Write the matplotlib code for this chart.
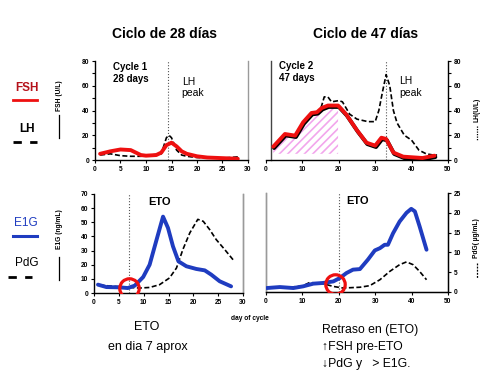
import numpy as np
import matplotlib
matplotlib.use("Agg")
import matplotlib.pyplot as plt
from matplotlib.lines import Line2D
import matplotlib.patheffects as pe

plt.rcParams['font.family'] = ['Liberation Sans', 'DejaVu Sans']
plt.rcParams['hatch.linewidth'] = 1.2

# ---- data: cycle 1 (28 days) ----
c1_fsh_day = [1, 2, 3, 5, 7, 8, 9, 10, 12, 13, 14, 15, 16, 17, 18, 20, 22, 25, 28]
c1_fsh = [5, 6, 7, 8.5, 8, 6, 4, 3.5, 4, 6, 12, 14, 11, 7, 5, 3, 2, 1.5, 1]
c1_lh_day = [1, 3, 5, 7, 9, 10, 13, 14, 14.5, 15, 16, 17, 18, 20, 25, 28]
c1_lh = [4, 5, 3.5, 3, 3, 3.5, 5, 18, 20, 18, 8, 4, 3, 2, 1.5, 2.5]

c1_e1g_day = [0.8, 2.5, 5.2, 6.8, 8.2, 9.9, 11.2, 12.6, 13.9, 14.9, 15.9, 17, 18.6,
              20.6, 22.3, 23.6, 25.3, 27.6]
c1_e1g = [5.9, 4.2, 4.0, 3.5, 5.2, 11.3, 20, 37.7, 54, 46, 33, 22.4, 18.9, 17, 16, 13, 8.3, 4.7]
c1_pdg_day = [1.1, 3.8, 7.2, 9.2, 11.2, 13.2, 15.2, 16.6, 17.9, 19.3, 20.9, 22, 23.3,
              24.6, 26.3, 28]
c1_pdg = [2.0, 1.7, 1.4, 1.25, 1.4, 2.1, 3.8, 6.3, 11, 15.2, 18.6, 18.1, 16, 13.5, 11, 8.4]

# ---- data: cycle 2 (47 days) ----
c2_fsh_day = [2, 5.2, 8, 10.2, 12.5, 14, 15.3, 17, 19.8, 22, 25, 27.6, 30, 31.7, 33,
              35, 37.7, 43, 46.3]
c2_fsh = [10.8, 21, 19.7, 30.5, 38, 38.6, 42, 44, 44, 37, 24, 14, 11.6, 18, 17, 6, 2.7, 1.6, 3.5]
c2_lh_day = [2, 5.2, 8, 10.2, 12.5, 14, 15, 15.5, 16, 17, 18, 20, 21, 23, 25, 28, 30,
             31, 32, 33, 34, 35, 36, 38, 40, 42, 44, 46, 47]
c2_lh = [10, 20, 19, 29, 37, 38, 41, 46, 51, 51, 47, 48, 47, 37, 33, 31, 31,
         40, 55, 69, 60, 40, 30, 20, 16, 8, 5, 4, 4]

c2_e1g_day = [0.2, 3.8, 7.5, 10.2, 13, 15.7, 18.5, 20.3, 22.1, 23.9, 25.8, 28, 29.9,
              31.3, 32.6, 33.5, 34.9, 36.7, 38.6, 39.9, 40.9, 42.2, 44.1]
c2_e1g = [2.8, 3.5, 2.8, 4, 5.9, 6.4, 7.5, 9.9, 13.4, 15.8, 16.2, 22.9, 29.4, 31,
          33.4, 33.4, 41.5, 49.8, 56, 58.8, 57, 46.4, 29.9]
c2_pdg_day = [0.5, 5, 10, 12, 15.7, 18.5, 21.2, 25.8, 28.5, 31.3, 34, 36.7, 38.6,
              40.4, 42.2, 44.1]
c2_pdg = [1.0, 1.1, 1.5, 2.4, 2.1, 1.4, 1.0, 1.2, 1.6, 3.1, 5.2, 6.9, 7.6, 6.9, 5.2, 3.1]

RED = '#ee1010'
BLUE = '#1f3cc0'
GREY = '#9a9a9a'


def fx(px):
    return px / 489.0


def fy(py):
    return 1 - py / 375.0


def box(x0, y0, x1, y1):
    return [fx(x0), fy(y1), fx(x1) - fx(x0), fy(y0) - fy(y1)]


def style_ticks(ax):
    ax.tick_params(axis='both', which='both', direction='out', length=2.5, width=0.8,
                   pad=1.5, labelsize=4.8, colors='black')
    for lab in ax.get_xticklabels() + ax.get_yticklabels():
        lab.set_fontweight('bold')


fig = plt.figure(figsize=(4.89, 3.75), dpi=100)
fig.patch.set_facecolor('white')

# ---------------- top-left: cycle 1 FSH / LH ----------------
ax1 = fig.add_axes(box(95, 61, 248, 160))
ax1.plot(c1_lh_day, c1_lh, color='black', lw=1.2, ls=(0, (3, 1.5)), zorder=2)
ax1.plot(c1_fsh_day, c1_fsh, color=RED, lw=2.8, solid_capstyle='round', zorder=3)
ax1.axvline(14.3, color='#555555', lw=0.8, ls=':', zorder=1)
ax1.set_xlim(0, 30)
ax1.set_ylim(0, 80)
ax1.set_xticks(range(0, 31, 5))
ax1.set_yticks(range(0, 81, 20))
ax1.set_yticks(range(0, 81, 10), minor=True)
ax1.spines['top'].set_visible(False)
ax1.spines['right'].set_color(GREY)
for s in ('right', 'bottom', 'left'):
    ax1.spines[s].set_linewidth(1.0)
style_ticks(ax1)
ax1.text(3.5, 75, 'Cycle 1', fontsize=7, fontweight='bold', va='center')
ax1.text(3.5, 65.5, '28 days', fontsize=7, fontweight='bold', va='center')
ax1.text(17, 63, 'LH', fontsize=7.5, va='center')
ax1.text(17, 54, 'peak', fontsize=7.5, va='center')

# ---------------- top-right: cycle 2 FSH / LH ----------------
ax2 = fig.add_axes(box(266, 61, 448, 160))
d = np.array(c2_fsh_day)
v = np.array(c2_fsh)
m = (d >= 2) & (d <= 20)
ax2.fill_between(d[m], 5, v[m], facecolor='none', edgecolor='#f2a6ec', hatch='////',
                 linewidth=0, zorder=1)
ax2.plot(c2_lh_day, c2_lh, color='black', lw=1.2, ls=(0, (3, 1.5)), zorder=2)
ax2.plot(c2_fsh_day, c2_fsh, color=RED, lw=2.8, solid_capstyle='round', zorder=3,
         path_effects=[pe.SimpleLineShadow(offset=(0.6, -1.0), shadow_color='black',
                                           alpha=1.0, rho=1.0), pe.Normal()])
ax2.axvline(33, color='#555555', lw=0.8, ls=':', zorder=1)
ax2.set_xlim(0, 50)
ax2.set_ylim(0, 80)
ax2.set_xticks(range(0, 51, 10))
ax2.yaxis.tick_right()
ax2.set_yticks(range(0, 81, 20))
ax2.set_yticks(range(0, 81, 10), minor=True)
ax2.spines['top'].set_visible(False)
ax2.spines['left'].set_position(('data', 1.5))
ax2.spines['left'].set_color('#444444')
for s in ('right', 'bottom', 'left'):
    ax2.spines[s].set_linewidth(1.0)
style_ticks(ax2)
ax2.text(3.5, 76, 'Cycle 2', fontsize=7, fontweight='bold', va='center')
ax2.text(3.5, 66.5, '47 days', fontsize=7, fontweight='bold', va='center')
ax2.text(36.5, 64, 'LH', fontsize=7.5, va='center')
ax2.text(36.5, 54, 'peak', fontsize=7.5, va='center')

# ---------------- bottom-left: cycle 1 E1G / PdG ----------------
ax3 = fig.add_axes(box(94, 194, 243, 293))
ax3b = ax3.twinx()
ax3.plot(c1_e1g_day, c1_e1g, color=BLUE, lw=2.8, solid_capstyle='round', zorder=3)
ax3b.plot(c1_pdg_day, c1_pdg, color='black', lw=1.2, ls=(0, (3, 1.5)), zorder=2)
ax3.axvline(7, color='#555555', lw=0.8, ls=':', zorder=1)
ax3.plot([7], [3.8], marker='o', ms=14, mfc='none', mec=RED, mew=2.3, zorder=4)
ax3.set_xlim(0, 30)
ax3.set_ylim(0, 70)
ax3b.set_ylim(0, 25)
ax3.set_xticks(range(0, 31, 5))
ax3.set_yticks(range(0, 71, 10))
ax3b.set_yticks([])
for a in (ax3, ax3b):
    a.spines['top'].set_visible(False)
    a.spines['right'].set_color(GREY)
    a.spines['right'].set_linewidth(1.0)
ax3.spines['left'].set_linewidth(1.0)
ax3.spines['bottom'].set_linewidth(1.0)
ax3b.spines['left'].set_visible(False)
ax3b.spines['bottom'].set_visible(False)
ax3.set_zorder(ax3b.get_zorder() + 1)
ax3.patch.set_visible(False)
style_ticks(ax3)
ax3.text(13.2, 64, 'ETO', fontsize=8, fontweight='bold', va='center', ha='center')

# ---------------- bottom-right: cycle 2 E1G / PdG ----------------
ax4 = fig.add_axes(box(266, 193, 448, 292))
ax4b = ax4.twinx()
ax4.plot(c2_e1g_day, c2_e1g, color=BLUE, lw=2.8, solid_capstyle='round', zorder=3)
ax4b.plot(c2_pdg_day, c2_pdg, color='black', lw=1.2, ls=(0, (3, 1.5)), zorder=2)
ax4.axvline(20, color='#555555', lw=0.8, ls=':', zorder=1)
ax4.plot([19], [5.5], marker='o', ms=14, mfc='none', mec=RED, mew=2.3, zorder=4)
ax4.set_xlim(0, 50)
ax4.set_ylim(0, 70)
ax4b.set_ylim(0, 25)
ax4.set_xticks(range(0, 51, 10))
ax4.set_yticks([])
ax4b.set_yticks(range(0, 26, 5))
for a in (ax4, ax4b):
    a.spines['top'].set_visible(False)
    a.spines['left'].set_color(GREY)
    a.spines['left'].set_linewidth(1.0)
ax4b.spines['right'].set_linewidth(1.0)
ax4.spines['bottom'].set_linewidth(1.0)
ax4.set_zorder(ax4b.get_zorder() + 1)
ax4.patch.set_visible(False)
style_ticks(ax4)
style_ticks(ax4b)
ax4.text(22, 64, 'ETO', fontsize=8, fontweight='bold', va='center')

# ---------------- titles and side labels ----------------
fig.text(fx(165), fy(34), 'Ciclo de 28 días', fontsize=10, fontweight='bold',
         ha='center', va='center')
fig.text(fx(366), fy(34), 'Ciclo de 47 días', fontsize=10, fontweight='bold',
         ha='center', va='center')

fig.text(fx(27), fy(88), 'FSH', fontsize=8.5, fontweight='bold', color='#b5121b',
         ha='center', va='center')
fig.add_artist(Line2D([fx(13), fx(37)], [fy(100), fy(100)], color=RED, lw=2))
fig.text(fx(27), fy(129), 'LH', fontsize=8.5, fontweight='bold', color='black',
         ha='center', va='center')
fig.add_artist(Line2D([fx(13), fx(37)], [fy(142), fy(142)], color='black', lw=2,
                      ls=(0, (3, 3))))
fig.text(fx(26), fy(223), 'E1G', fontsize=8.5, color=BLUE, ha='center', va='center')
fig.add_artist(Line2D([fx(13), fx(37)], [fy(236), fy(236)], color=BLUE, lw=2.2))
fig.text(fx(27), fy(263), 'PdG', fontsize=8.5, color='black', ha='center', va='center')
fig.add_artist(Line2D([fx(8), fx(32)], [fy(277), fy(277)], color='black', lw=2,
                      ls=(0, (3, 3))))

fig.text(fx(60), fy(96), 'FSH (U/L)', fontsize=4.8, fontweight='bold', rotation=90,
         ha='center', va='center')
fig.add_artist(Line2D([fx(59), fx(59)], [fy(115), fy(138)], color='black', lw=0.9))
fig.text(fx(60), fy(229), 'E1G (ng/mL)', fontsize=4.8, fontweight='bold', rotation=90,
         ha='center', va='center')
fig.add_artist(Line2D([fx(59), fx(59)], [fy(257), fy(280)], color='black', lw=0.9))

fig.text(fx(477), fy(110), 'LH(U/L)', fontsize=4.8, fontweight='bold', rotation=90,
         ha='center', va='center')
fig.add_artist(Line2D([fx(477), fx(477)], [fy(126), fy(140)], color='black', lw=0.9,
                      ls=(0, (1, 1))))
fig.text(fx(477), fy(238), 'PdG( µg/mL)', fontsize=4.8, fontweight='bold', rotation=90,
         ha='center', va='center')
fig.add_artist(Line2D([fx(477), fx(477)], [fy(263), fy(278)], color='black', lw=0.9,
                      ls=(0, (1.5, 1))))

# ---------------- bottom notes ----------------
fig.text(fx(250), fy(319), 'day of cycle', fontsize=4.8, fontweight='bold',
         ha='center', va='center')
fig.text(fx(147), fy(327), 'ETO', fontsize=9, ha='center', va='center')
fig.text(fx(148), fy(347), 'en dia 7 aprox', fontsize=9, ha='center', va='center')
fig.text(fx(322), fy(330), 'Retraso en (ETO)', fontsize=8.8, ha='left', va='center')
fig.text(fx(322), fy(347), '↑FSH pre-ETO', fontsize=8.8, ha='left', va='center')
fig.text(fx(322), fy(364), '↓PdG y   > E1G.', fontsize=8.8, ha='left', va='center')

fig.savefig('out.png', dpi=100)
